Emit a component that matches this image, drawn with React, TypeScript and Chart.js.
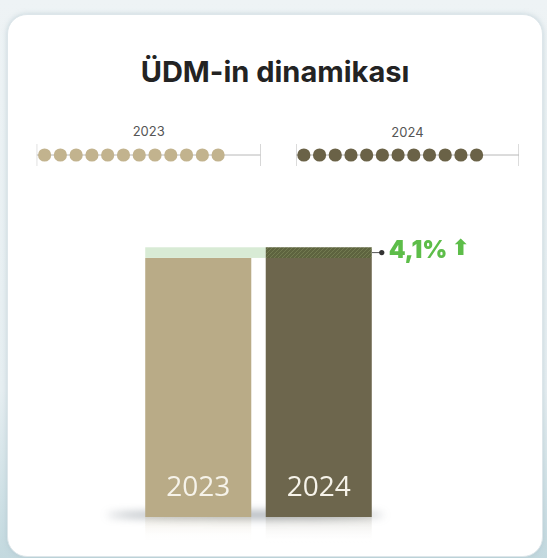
import React, { useEffect, useRef } from "react";
import { Chart, registerables } from "chart.js";

Chart.register(...registerables);

// ---- data ----
const TITLE = "ÜDM-in dinamikası";
const years = ["2023", "2024"];
const gdpIndex = [100, 104.1]; // 2023 = 100
const months = [1, 2, 3, 4, 5, 6, 7, 8, 9, 10, 11, 12];
const trackRange = [0.5, 14.7];
const yMax = 110;

const COLORS = {
  tan: "#b9ab87",
  olive: "#6d664d",
  dot2023: "#c2b38e",
  dot2024: "#6a6247",
  band: "#d8ebd5",
  green: "#5dbd49",
};

const W = 547;
const H = 558;

function makeHatch(): CanvasPattern | string {
  const c = document.createElement("canvas");
  c.width = 4;
  c.height = 4;
  const x = c.getContext("2d");
  if (!x) return "#60653f";
  x.fillStyle = "#5e643f";
  x.fillRect(0, 0, 4, 4);
  x.strokeStyle = "#727a50";
  x.lineWidth = 1;
  x.beginPath();
  x.moveTo(0, 4);
  x.lineTo(4, 0);
  x.stroke();
  const p = x.createPattern(c, "repeat");
  return p || "#60653f";
}

const barDecor = {
  id: "barDecor",
  beforeDatasetsDraw(chart: any) {
    const { ctx } = chart;
    const ys = chart.scales.y;
    const meta = chart.getDatasetMeta(0);
    const b0: any = meta.data[0];
    const b1: any = meta.data[1];
    const bottom = ys.getPixelForValue(0);
    ctx.save();
    // ground shadow
    ctx.filter = "blur(4px)";
    ctx.fillStyle = "rgba(80,92,105,0.55)";
    const l = b0.x - b0.width / 2 - 38;
    const r = b1.x + b1.width / 2 + 12;
    ctx.beginPath();
    ctx.ellipse((l + r) / 2, bottom - 2, (r - l) / 2, 3.5, 0, 0, Math.PI * 2);
    ctx.fill();
    ctx.filter = "none";
    // reflections
    [b0, b1].forEach((b: any, i: number) => {
      const g = ctx.createLinearGradient(0, bottom, 0, bottom + 26);
      g.addColorStop(0, i === 0 ? "rgba(185,171,135,0.22)" : "rgba(109,102,77,0.18)");
      g.addColorStop(1, "rgba(255,255,255,0)");
      ctx.fillStyle = g;
      ctx.fillRect(b.x - b.width / 2, bottom, b.width, 26);
    });
    // growth band across
    const yTop = ys.getPixelForValue(gdpIndex[1]);
    const yBase = ys.getPixelForValue(gdpIndex[0]);
    ctx.fillStyle = COLORS.band;
    ctx.fillRect(b0.x - b0.width / 2, yTop, b1.x - b1.width / 2 - (b0.x - b0.width / 2), yBase - yTop);
    ctx.restore();
  },
  afterDatasetsDraw(chart: any) {
    const { ctx } = chart;
    const ys = chart.scales.y;
    const meta = chart.getDatasetMeta(0);
    const bottom = ys.getPixelForValue(0);
    ctx.save();
    ctx.fillStyle = "#f6f3ea";
    ctx.font = '400 28px "Open Sans", sans-serif';
    ctx.textAlign = "center";
    ctx.textBaseline = "alphabetic";
    meta.data.forEach((b: any, i: number) => {
      ctx.fillText(years[i], b.x, bottom - 21);
    });
    // growth label
    const b1: any = meta.data[1];
    const yTop = ys.getPixelForValue(gdpIndex[1]);
    const yBase = ys.getPixelForValue(gdpIndex[0]);
    const ym = (yTop + yBase) / 2;
    const xr = b1.x + b1.width / 2;
    ctx.strokeStyle = "#555";
    ctx.lineWidth = 1;
    ctx.beginPath();
    ctx.moveTo(xr, ym);
    ctx.lineTo(xr + 9, ym);
    ctx.stroke();
    ctx.fillStyle = "#333";
    ctx.beginPath();
    ctx.arc(xr + 10, ym, 2.6, 0, Math.PI * 2);
    ctx.fill();
    const pct = ((gdpIndex[1] / gdpIndex[0] - 1) * 100).toFixed(1).replace(".", ",") + "%";
    ctx.fillStyle = COLORS.green;
    ctx.textAlign = "left";
    ctx.textBaseline = "middle";
    ctx.font = '900 24px "Inter", sans-serif';
    ctx.fillText(pct, xr + 17, ym - 2);
    const tw = ctx.measureText(pct).width;
    ctx.font = 'bold 22px "DejaVu Sans", sans-serif';
    ctx.fillText("⬆", xr + 17 + tw + 4, ym - 3);
    ctx.restore();
  },
};

function BarChart() {
  const ref = useRef<HTMLCanvasElement>(null);
  useEffect(() => {
    if (!ref.current) return;
    const base = [gdpIndex[0], gdpIndex[0]];
    const growth = [null, gdpIndex[1] - gdpIndex[0]];
    const chart = new Chart(ref.current, {
      type: "bar",
      data: {
        labels: years,
        datasets: [
          {
            data: base,
            backgroundColor: [COLORS.tan, COLORS.olive],
            borderWidth: 0,
            barPercentage: 0.88,
            categoryPercentage: 1,
          },
          {
            data: growth as any,
            backgroundColor: makeHatch() as any,
            borderWidth: 0,
            barPercentage: 0.88,
            categoryPercentage: 1,
          },
        ],
      },
      options: {
        animation: false,
        responsive: false,
        events: [],
        layout: { padding: { left: 138, right: W - 379, top: 232, bottom: H - 517 } },
        plugins: { legend: { display: false }, tooltip: { enabled: false }, title: { display: false } },
        scales: {
          x: { display: false, stacked: true },
          y: { display: false, stacked: true, min: 0, max: yMax },
        },
      },
      plugins: [barDecor],
    });
    return () => chart.destroy();
  }, []);
  return <canvas ref={ref} width={W} height={H} style={{ position: "absolute", left: 0, top: 0 }} />;
}

function DotTrack({ left, right, color }: { left: number; right: number; color: string }) {
  const ref = useRef<HTMLCanvasElement>(null);
  useEffect(() => {
    if (!ref.current) return;
    const [a, b] = trackRange;
    const chart = new Chart(ref.current, {
      type: "scatter",
      data: {
        datasets: [
          {
            type: "line",
            data: [{ x: a, y: 0 }, { x: b, y: 0 }],
            borderColor: "#b8b8b8",
            borderWidth: 1,
            pointRadius: 0,
            order: 3,
          } as any,
          {
            type: "line",
            data: [{ x: a, y: -1 }, { x: a, y: 1 }],
            borderColor: "#b8b8b8",
            borderWidth: 1,
            pointRadius: 0,
            order: 3,
          } as any,
          {
            type: "line",
            data: [{ x: b, y: -1 }, { x: b, y: 1 }],
            borderColor: "#b8b8b8",
            borderWidth: 1,
            pointRadius: 0,
            order: 3,
          } as any,
          {
            data: months.map((m) => ({ x: m, y: 0 })),
            backgroundColor: color,
            borderWidth: 0,
            pointRadius: 6.6,
            order: 1,
            clip: false,
          } as any,
        ],
      },
      options: {
        animation: false,
        responsive: false,
        events: [],
        layout: { padding: { left, right: W - right, top: 144, bottom: H - 166 } },
        plugins: { legend: { display: false }, tooltip: { enabled: false } },
        scales: {
          x: { display: false, type: "linear", min: a, max: b },
          y: { display: false, min: -1, max: 1 },
        },
      },
    });
    return () => chart.destroy();
  }, []);
  return <canvas ref={ref} width={W} height={H} style={{ position: "absolute", left: 0, top: 0 }} />;
}

export default function App() {
  return (
    <div
      style={{
        position: "absolute",
        left: 0,
        top: 0,
        width: W,
        height: H,
        overflow: "hidden",
        background: "linear-gradient(180deg, #eef3f5 0%, #e6eef1 70%, #c3d9df 100%)",
        fontFamily: '"Inter", sans-serif',
      }}
    >
      <div
        style={{
          position: "absolute",
          left: 7,
          top: 14,
          width: 534,
          height: 541,
          borderRadius: 20,
          background: "#fff",
          border: "1px solid #dde6ea",
          boxShadow: "0 0 5px rgba(160,185,195,0.5)",
        }}
      />
      <div
        style={{
          position: "absolute",
          left: 0,
          width: 550,
          top: 55,
          textAlign: "center",
          fontSize: 29,
          fontWeight: 700,
          color: "#232323",
          lineHeight: "34px",
        }}
      >
        {TITLE}
      </div>
      <div style={{ position: "absolute", left: 36.7, width: 224, top: 123, textAlign: "center", fontSize: 13, color: "#555", lineHeight: "16px" }}>
        {years[0]}
      </div>
      <div style={{ position: "absolute", left: 296, width: 223, top: 124, textAlign: "center", fontSize: 13, color: "#555", lineHeight: "16px" }}>
        {years[1]}
      </div>
      <DotTrack left={36.7} right={260.7} color={COLORS.dot2023} />
      <DotTrack left={296} right={519} color={COLORS.dot2024} />
      <BarChart />
    </div>
  );
}
